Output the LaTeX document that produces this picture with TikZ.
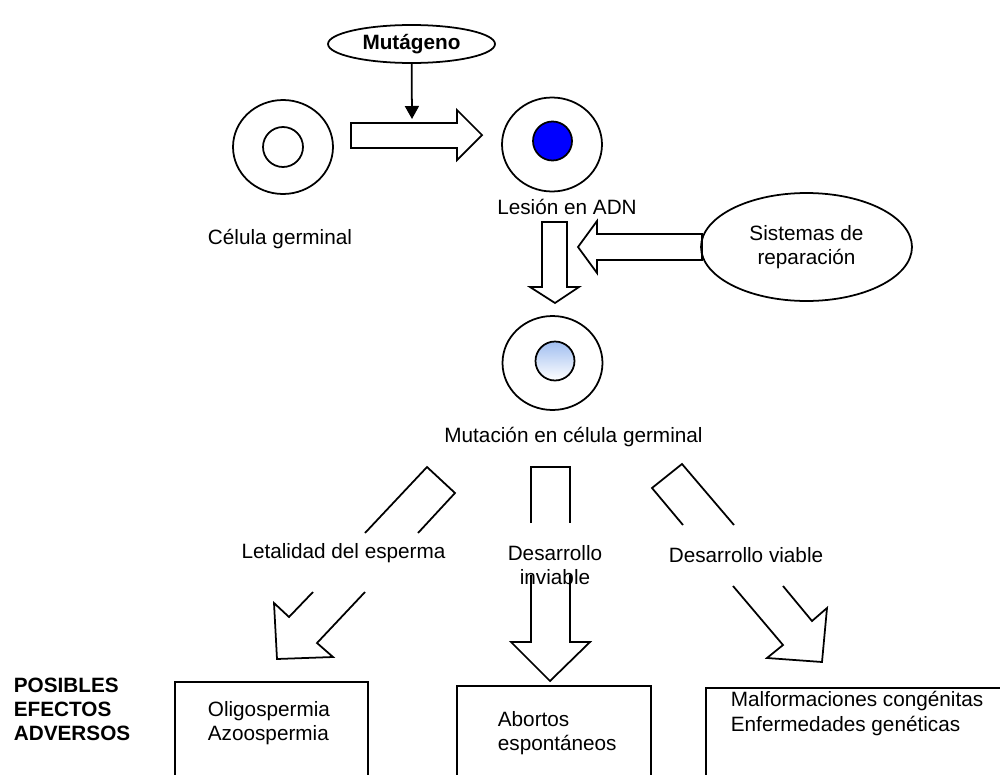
\documentclass[tikz,border=0pt]{standalone}
\usepackage{fontspec}
\setmainfont{Liberation Sans}
\usetikzlibrary{shapes.geometric,arrows.meta}
\definecolor{nucblue}{RGB}{0,0,255}
\definecolor{nucpale}{RGB}{160,190,240}
\begin{document}
\begin{tikzpicture}[x=0.02cm,y=-0.02cm,line width=1pt,
  font=\fontsize{11.8pt}{13.7pt}\selectfont,
  every node/.style={inner sep=0pt,align=center},
  oval/.style={draw,ellipse},
  cellwall/.style={draw,ellipse,minimum width=2cm,minimum height=1.88cm},
  nucleus/.style={draw,circle,minimum size=0.8cm},
  bigarrow/.style={draw,line join=miter},
  effbox/.style={draw,minimum width=#1,minimum height=2.4cm,anchor=north},
  efftext/.style={anchor=west,align=left}]
\useasboundingbox (0,0) rectangle (1000,774);
% top row: cells and mutagen
\node[oval,minimum width=3.34cm,minimum height=0.76cm,font=\fontsize{11.8pt}{13.7pt}\selectfont\bfseries] (mut) at (411.5,44) {Mutágeno};
\node[cellwall] (germ) at (283,147) {};
\node[nucleus] (germnuc) at (283,147) {};
\node[cellwall] (lesion) at (552,144.5) {};
\node[nucleus,fill=nucblue,minimum size=0.78cm] (lesnuc) at (552.5,141) {};
\node (germlbl) at (280,239) {Célula germinal};
\node (leslbl) at (567,207) {Lesión en ADN};
\coordinate (hit) at (412,119);
\draw[-{Triangle[width=0.28cm,length=0.26cm]}] (mut) -- (hit);
\draw[bigarrow] (351,123) -- (457,123) -- (457,110) -- (482,135) -- (457,160) -- (457,148) -- (351,148) -- cycle;
% repair
\node[oval,minimum width=4.22cm,minimum height=2.16cm] (repair) at (806.5,247) {Sistemas de\\reparación};
\draw[bigarrow] (702,234) -- (597,234) -- (597,221) -- (578,247) -- (597,273) -- (597,260) -- (702,260) -- cycle;
\draw[bigarrow] (542,222) -- (567,222) -- (567,287) -- (579,287) -- (555,303) -- (530,287) -- (542,287) -- cycle;
% mutated cell
\node[cellwall] (mutcell) at (552.5,363) {};
\node[nucleus,shading angle=-45,top color=nucpale,middle color=nucpale!85,bottom color=white,minimum size=0.78cm] (mutnuc) at (555,361) {};
\node (mutlbl) at (573.5,437) {Mutación en célula germinal};
% three outcomes
\draw[bigarrow] (365,533) -- (427,467) -- (455,493) -- (418,533);
\draw[bigarrow] (313,592) -- (289,617) -- (274,603) -- (277,659) -- (333,657) -- (317,643) -- (365,592);
\node (letal) at (343.5,553) {Letalidad del esperma};
\draw[bigarrow] (531,523) -- (531,467) -- (570,467) -- (570,523);
\draw[bigarrow] (531,575) -- (531,642) -- (511,642) -- (550,681) -- (590,642) -- (570,642) -- (570,575);
\node (inviab) at (555,565) {Desarrollo\\inviable};
\draw[bigarrow] (683,525) -- (652,488) -- (682,464) -- (734,525);
\draw[bigarrow] (733,586) -- (783,645) -- (767,658) -- (822,662) -- (827,608) -- (812,621) -- (783,586);
\node (viab) at (746,555) {Desarrollo viable};
% effects
\node[anchor=west,align=left,font=\fontsize{11.8pt}{13.7pt}\selectfont\bfseries] (posib) at (13,709) {POSIBLES\\EFECTOS\\ADVERSOS};
\node[effbox=3.86cm] (box1) at (271.5,681) {};
\node[efftext] (oligo) at (207,723.5) {Oligospermia\\Azoospermia};
\node[effbox=3.88cm] (box2) at (554,685) {};
\node[efftext] (abort) at (497,733.5) {Abortos\\espontáneos};
\node[effbox=6.2cm] (box3) at (861,687) {};
\node[efftext] (malf) at (730,713.5) {Malformaciones congénitas\\Enfermedades genéticas};
\end{tikzpicture}
\end{document}
